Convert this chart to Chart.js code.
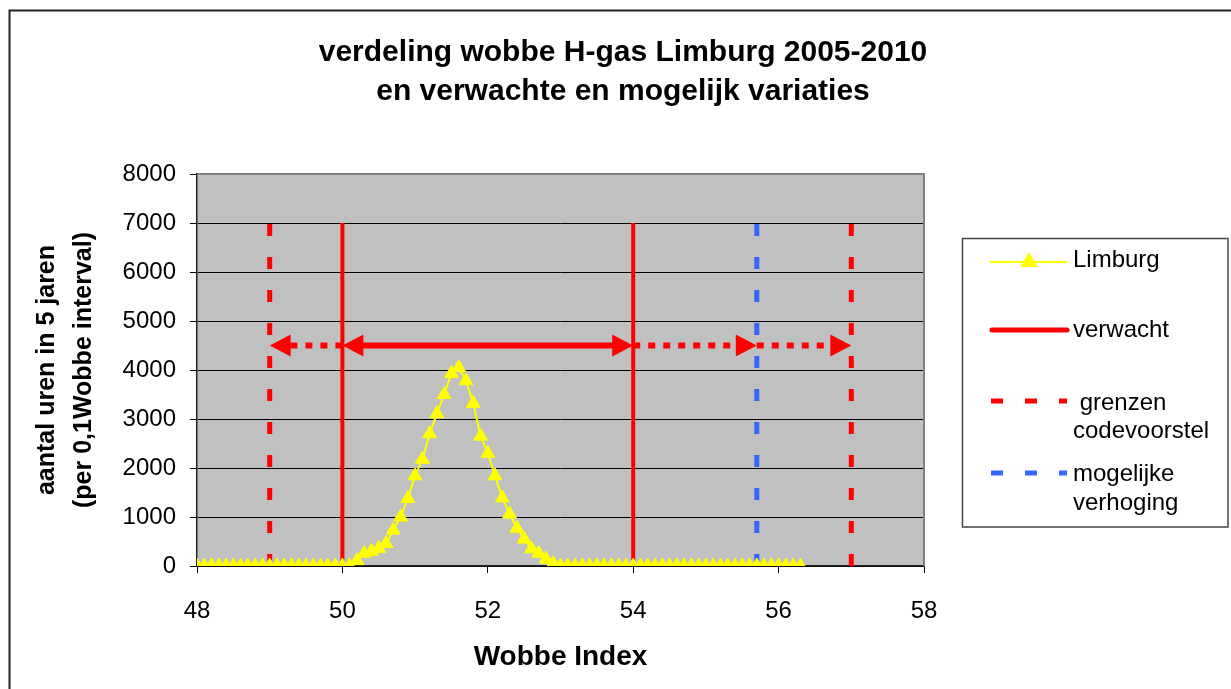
<!DOCTYPE html>
<html>
<head>
<meta charset="utf-8">
<script src="https://cdn.jsdelivr.net/npm/chart.js@4/dist/chart.umd.min.js"></script>
<style>
  body { margin: 0; background: #fff; }
  #wrap { width: 1231px; height: 689px; }
</style>
</head>
<body>
<div id="wrap"><canvas id="myChart" width="1231" height="689"></canvas></div>
<script>
// wobbe index (x) and hours per 0,1 interval (y)
const wobbe = [
  48.0, 48.1, 48.2, 48.3, 48.4, 48.5, 48.6, 48.7, 48.8, 48.9,
  49.0, 49.1, 49.2, 49.3, 49.4, 49.5, 49.6, 49.7, 49.8, 49.9,
  50.0, 50.1, 50.2, 50.3, 50.4, 50.5, 50.6, 50.7, 50.8, 50.9,
  51.0, 51.1, 51.2, 51.3, 51.4, 51.5, 51.6, 51.7, 51.8, 51.9,
  52.0, 52.1, 52.2, 52.3, 52.4, 52.5, 52.6, 52.7, 52.8, 52.9,
  53.0, 53.1, 53.2, 53.3, 53.4, 53.5, 53.6, 53.7, 53.8, 53.9,
  54.0, 54.1, 54.2, 54.3, 54.4, 54.5, 54.6, 54.7, 54.8, 54.9,
  55.0, 55.1, 55.2, 55.3, 55.4, 55.5, 55.6, 55.7, 55.8, 55.9,
  56.0, 56.1, 56.2, 56.3
];
const limburg = [
  0, 0, 0, 0, 0, 0, 0, 0, 0, 0,
  0, 0, 0, 0, 0, 0, 0, 0, 0, 0,
  0, 0, 110, 260, 300, 360, 460, 730, 1000, 1380,
  1840, 2180, 2700, 3110, 3500, 3930, 4050, 3780, 3320, 2650,
  2300, 1840, 1390, 1060, 770, 550, 350, 260, 140, 50,
  0, 0, 0, 0, 0, 0, 0, 0, 0, 0,
  0, 0, 0, 0, 0, 0, 0, 0, 0, 0,
  0, 0, 0, 0, 0, 0, 0, 0, 0, 0,
  0, 0, 0, 0
];
const verwacht = [50, 54];          // expected range
const grenzen = [49, 57];           // limits code proposal
const verhoging = [55.7];           // possible increase
const lineTop = 7000;
const arrowLevel = 4500;
// arrows: from, to, solid?, heads
const arrows = [
  { from: 50, to: 54, solid: true, heads: 'both' },
  { from: 50, to: 49, solid: false, heads: 'end' },
  { from: 54, to: 55.7, solid: false, heads: 'end' },
  { from: 55.7, to: 57, solid: false, heads: 'end' }
];
const yTicks = [0, 1000, 2000, 3000, 4000, 5000, 6000, 7000, 8000];

const titleLines = ['verdeling wobbe H-gas Limburg 2005-2010', 'en verwachte en mogelijk variaties'];
const yTitle = ['aantal uren in 5 jaren', '(per 0,1Wobbe interval)'];
const xTitle = 'Wobbe Index';

const FONT = '"Liberation Sans", Arial, sans-serif';
const RED = '#ff0000';
const BLUE = '#3366ff';
const YELLOW = '#ffff00';

function vline(x, color, width, dash) {
  return {
    data: [{ x: x, y: 0 }, { x: x, y: lineTop }],
    borderColor: color,
    backgroundColor: color,
    borderWidth: width,
    borderDash: dash,
    borderCapStyle: 'butt',
    pointRadius: 0,
    showLine: true,
    order: 5
  };
}

let datasets = [{
  label: 'Limburg',
  data: wobbe.map((w, i) => ({ x: w, y: limburg[i] })),
  borderColor: YELLOW,
  backgroundColor: YELLOW,
  borderWidth: 2,
  pointStyle: 'triangle',
  pointRadius: 8,
  pointBorderWidth: 1,
  showLine: true,
  order: 1
}];
verwacht.forEach(v => datasets.push(vline(v, RED, 4, [])));
grenzen.forEach(v => datasets.push(vline(v, RED, 5, [12, 21])));
verhoging.forEach(v => datasets.push(vline(v, BLUE, 5, [12, 21])));

function arrowHead(ctx, tipX, y, dir) {
  ctx.beginPath();
  ctx.moveTo(tipX, y);
  ctx.lineTo(tipX - dir * 21, y - 11);
  ctx.lineTo(tipX - dir * 21, y + 11);
  ctx.closePath();
  ctx.fill();
}

const decor = {
  id: 'decor',
  beforeDraw(chart) {
    const { ctx, chartArea: a } = chart;
    ctx.save();
    ctx.fillStyle = '#fff';
    ctx.fillRect(0, 0, chart.width, chart.height);
    ctx.fillStyle = '#c0c0c0';
    ctx.fillRect(a.left, a.top, a.right - a.left, a.bottom - a.top);
    ctx.restore();
  },
  afterDatasetsDraw(chart) {
    const { ctx } = chart;
    const xs = chart.scales.x, ys = chart.scales.y;
    const y = ys.getPixelForValue(arrowLevel);
    ctx.save();
    ctx.fillStyle = RED;
    ctx.strokeStyle = RED;
    arrows.forEach(ar => {
      const x1 = xs.getPixelForValue(ar.from), x2 = xs.getPixelForValue(ar.to);
      const dir = x2 > x1 ? 1 : -1;
      ctx.lineWidth = 6;
      ctx.setLineDash(ar.solid ? [] : [7, 8]);
      ctx.lineCap = 'butt';
      ctx.beginPath();
      const s = ar.heads === 'both' ? x1 + dir * 18 : x1;
      ctx.moveTo(s, y);
      ctx.lineTo(x2 - dir * 18, y);
      ctx.stroke();
      arrowHead(ctx, x2, y, dir);
      if (ar.heads === 'both') arrowHead(ctx, x1, y, -dir);
    });
    ctx.restore();
  },
  afterDraw(chart) {
    const { ctx, chartArea: a } = chart;
    ctx.save();
    // plot frame top/right
    ctx.strokeStyle = '#808080';
    ctx.lineWidth = 2;
    ctx.beginPath();
    ctx.moveTo(a.left, a.top);
    ctx.lineTo(a.right, a.top);
    ctx.lineTo(a.right, a.bottom);
    ctx.stroke();

    // title
    ctx.fillStyle = '#000';
    ctx.textAlign = 'center';
    ctx.textBaseline = 'middle';
    ctx.font = 'bold 30px ' + FONT;
    ctx.fillText(titleLines[0], 623, 53);
    ctx.fillText(titleLines[1], 623, 92);

    // x title
    ctx.font = 'bold 28px ' + FONT;
    ctx.fillText(xTitle, (a.left + a.right) / 2, 657);

    // y title
    ctx.save();
    ctx.translate(0, (a.top + a.bottom) / 2);
    ctx.rotate(-Math.PI / 2);
    ctx.font = 'bold 25px ' + FONT;
    ctx.fillText(yTitle[0], 0, 47);
    ctx.fillText(yTitle[1], 0, 84);
    ctx.restore();

    // legend
    ctx.strokeStyle = '#444';
    ctx.lineWidth = 1.5;
    ctx.strokeRect(962.5, 238.5, 265.5, 288.5);
    ctx.textAlign = 'left';
    ctx.font = '24px ' + FONT;
    const lx1 = 990, lx2 = 1067, tx = 1073;
    // Limburg
    ctx.strokeStyle = YELLOW;
    ctx.lineWidth = 2;
    ctx.beginPath(); ctx.moveTo(lx1, 262); ctx.lineTo(lx2, 262); ctx.stroke();
    ctx.fillStyle = YELLOW;
    Chart.helpers.drawPoint(ctx, { pointStyle: 'triangle', radius: 8, borderWidth: 1 }, 1029, 262);
    ctx.fillStyle = '#000';
    ctx.fillText('Limburg', tx, 260);
    // verwacht
    ctx.strokeStyle = RED;
    ctx.lineWidth = 5;
    ctx.lineCap = 'round';
    ctx.beginPath(); ctx.moveTo(lx1 + 2, 330); ctx.lineTo(lx2, 330); ctx.stroke();
    ctx.fillText('verwacht', tx, 330);
    // grenzen codevoorstel
    ctx.lineCap = 'butt';
    ctx.setLineDash([12, 22]);
    ctx.beginPath(); ctx.moveTo(lx1 + 1, 401); ctx.lineTo(lx2, 401); ctx.stroke();
    ctx.fillText(' grenzen', tx, 403);
    ctx.fillText('codevoorstel', tx, 431);
    // mogelijke verhoging
    ctx.strokeStyle = BLUE;
    ctx.beginPath(); ctx.moveTo(lx1 + 1, 473); ctx.lineTo(lx2, 473); ctx.stroke();
    ctx.setLineDash([]);
    ctx.fillText('mogelijke', tx, 474);
    ctx.fillText('verhoging', tx, 503);

    // outer frame
    ctx.strokeStyle = '#222';
    ctx.lineWidth = 2;
    ctx.strokeRect(9.5, 10.5, chart.width + 10, chart.height + 10);
    ctx.restore();
  }
};

const config = {
  type: 'scatter',
  data: { datasets: datasets },
  options: {
    responsive: false,
    animation: false,
    layout: { padding: { left: 0, top: 174, right: 307, bottom: 0 } },
    plugins: {
      legend: { display: false },
      tooltip: { enabled: false },
      title: { display: false }
    },
    scales: {
      x: {
        type: 'linear',
        min: 48,
        max: 58,
        afterFit: s => { s.height = 123; },
        ticks: { stepSize: 2, color: '#000', padding: 24, font: { family: FONT, size: 24 } },
        grid: { drawOnChartArea: false, color: '#000', tickLength: 7 },
        border: { color: '#222', width: 1.5 }
      },
      y: {
        type: 'linear',
        min: 0,
        max: 8000,
        afterFit: s => { s.width = 197; },
        afterBuildTicks: s => { s.ticks = yTicks.map(v => ({ value: v })); },
        ticks: {
          color: '#000',
          padding: 14,
          font: { family: FONT, size: 24 },
          callback: v => String(v)
        },
        grid: {
          color: c => (c.tick && c.tick.value === 8000 ? '#808080' : '#000'),
          tickColor: '#000',
          tickLength: 7,
          lineWidth: 1
        },
        border: { color: '#222', width: 1.5 }
      }
    }
  },
  plugins: [decor]
};

const newChart = new Chart(document.getElementById('myChart'), config);
</script>
</body>
</html>
